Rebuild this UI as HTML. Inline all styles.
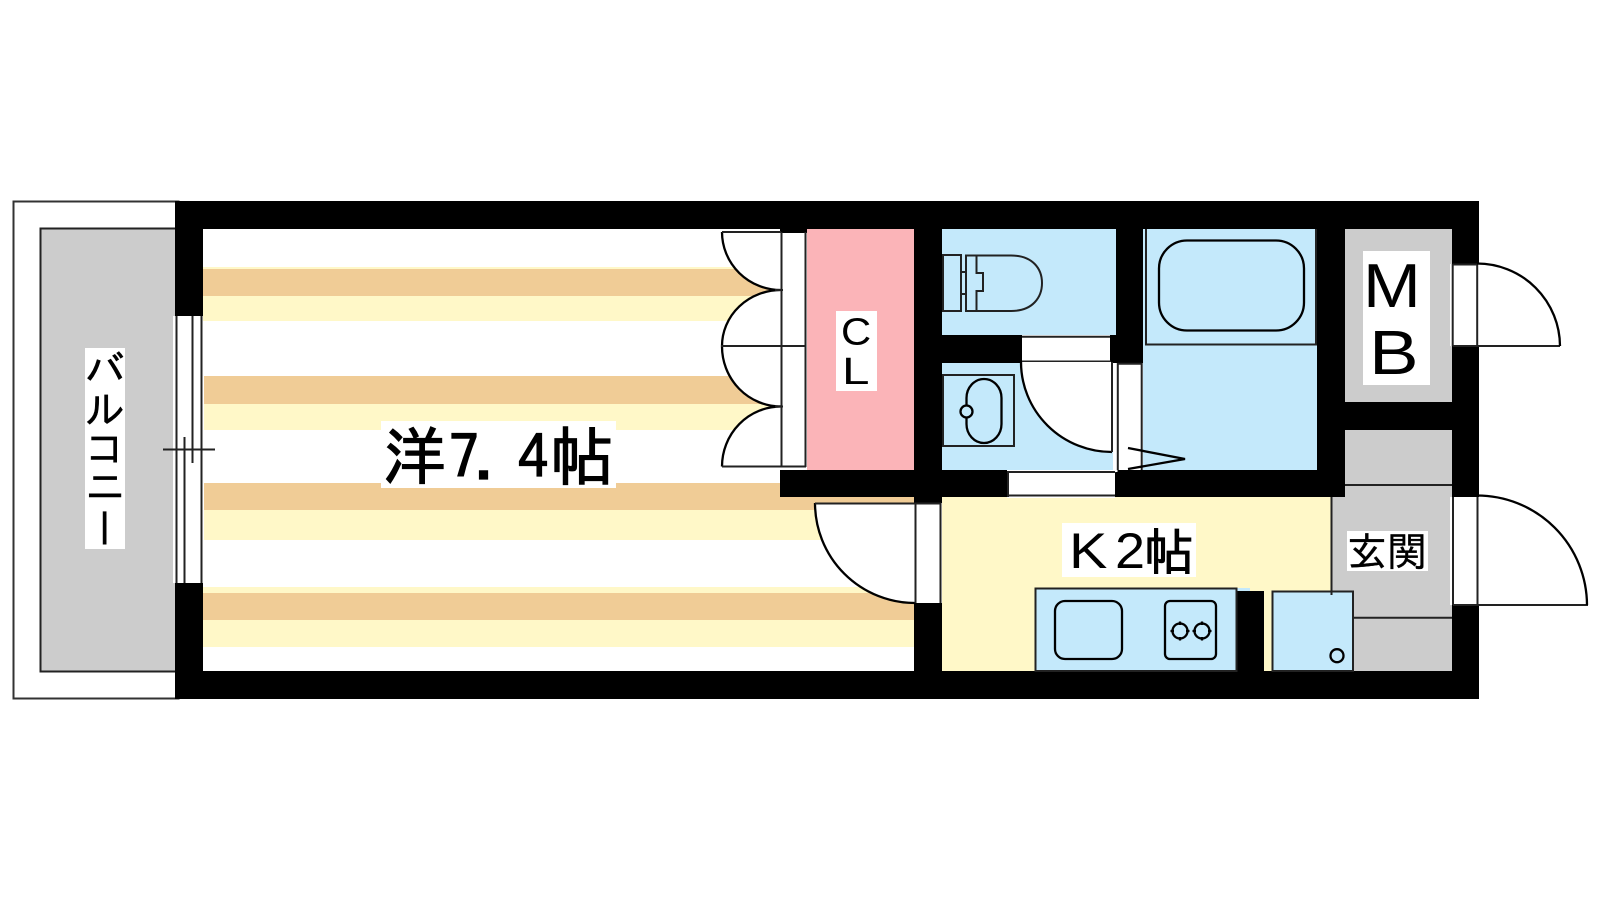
<!DOCTYPE html>
<html lang="ja">
<head>
<meta charset="utf-8">
<title>間取り図</title>
<style>
html,body{margin:0;padding:0;background:#fff;width:1600px;height:900px;overflow:hidden}
svg{display:block}
.l{fill:none;stroke:#222;stroke-width:2}
.d{fill:none;stroke:#000;stroke-width:2.3}
.w{fill:#fff;stroke:none}
.j{font-family:"IPAGothic","Noto Sans CJK JP",sans-serif;fill:#000;stroke:#000;stroke-width:.5}
.b{stroke-width:1.2}
.a{font-family:"Liberation Sans",sans-serif;fill:#000}
</style>
</head>
<body>
<svg width="1600" height="900" viewBox="0 0 1600 900" xmlns="http://www.w3.org/2000/svg">
<rect width="1600" height="900" fill="#fff"/>

<!-- balcony -->
<rect x="13.500" y="201.500" width="165" height="497" fill="#fff" stroke="#333" stroke-width="2"/>
<rect x="40.500" y="228.500" width="138" height="443" fill="#ccc" stroke="#222" stroke-width="2"/>

<!-- stripes -->
<rect x="203" y="267" width="577" height="2" fill="#fff8c8"/>
<rect x="203" y="269" width="577" height="27" fill="#f0cc96"/>
<rect x="203" y="296" width="577" height="25" fill="#fff8c8"/>
<rect x="204" y="376" width="576" height="28" fill="#f0cc96"/>
<rect x="204" y="404" width="576" height="26" fill="#fff8c8"/>
<rect x="204" y="483" width="710" height="27" fill="#f0cc96"/>
<rect x="204" y="510" width="710" height="30" fill="#fff8c8"/>
<rect x="203" y="587" width="711" height="6" fill="#fff8c8"/>
<rect x="203" y="593" width="711" height="27" fill="#f0cc96"/>
<rect x="203" y="620" width="711" height="27" fill="#fff8c8"/>

<!-- room fills -->
<rect x="807" y="229" width="107" height="241" fill="#fbb4b8"/>
<rect x="942" y="229" width="174" height="106" fill="#c4e9fb"/>
<rect x="942" y="363" width="173" height="107" fill="#c4e9fb"/>
<rect x="1143" y="229" width="174" height="241" fill="#c4e9fb"/>
<rect x="1345" y="229" width="107" height="173" fill="#ccc"/>
<rect x="1345" y="430" width="107" height="241" fill="#ccc"/>
<rect x="1332" y="497" width="120" height="174" fill="#ccc"/>
<rect x="942" y="497" width="390" height="174" fill="#fff8c8"/>

<!-- walls -->
<g fill="#000">
<rect x="175" y="201" width="1304" height="28"/>
<rect x="175" y="671" width="1304" height="28"/>
<rect x="175" y="201" width="28" height="115"/>
<rect x="175" y="583" width="28" height="116"/>
<rect x="1452" y="201" width="27" height="63"/>
<rect x="1452" y="346" width="27" height="151"/>
<rect x="1452" y="605" width="27" height="94"/>
<rect x="914" y="229" width="28" height="274"/>
<rect x="914" y="603" width="28" height="68"/>
<rect x="780" y="470" width="227" height="27"/>
<rect x="1115" y="470" width="230" height="27"/>
<rect x="942" y="335" width="80" height="28"/>
<rect x="1116" y="229" width="27" height="106"/>
<rect x="1110" y="335" width="33" height="28"/>
<rect x="1317" y="229" width="28" height="268"/>
<rect x="1345" y="402" width="107" height="28"/>
<rect x="1237" y="591" width="27" height="80"/>
<rect x="780" y="229" width="27" height="4"/>
</g>

<!-- balcony window -->
<rect x="173" y="316" width="30" height="267" fill="#fff"/>
<path class="l" d="M176.500 316V583M201.500 316V583M192.500 316V463M184.500 437V583M163 449.500H215"/>

<!-- closet doors -->
<rect x="780" y="233" width="27" height="234" fill="#fff"/>
<path class="w" d="M722 232H781V290A59 58 0 0 1 722 232Z"/>
<path class="w" d="M722 346A59 56 0 0 1 781 290V346Z"/>
<path class="w" d="M722 346H781V406.500A59 60 0 0 1 722 346Z"/>
<path class="w" d="M722 466.500A59 60 0 0 1 781 406.500V466.500Z"/>
<path class="d" d="M722 232A59 58 0 0 0 781 290M722 346A59 56 0 0 1 781 290M722 346A59 60 0 0 0 781 406.500M722 466.500A59 60 0 0 1 781 406.500"/>
<path class="l" d="M722 232H781M721 346H806M722 466.500H806M781.500 232V467M805.500 232V467M775 290H783M775 406.500H783"/>

<!-- room door to western room -->
<rect x="915" y="503" width="26" height="100" fill="#fff"/>
<path class="w" d="M815 503H915V603A100 100 0 0 1 815 503Z"/>
<path class="d" d="M815 503A100 100 0 0 0 915 603"/>
<path class="l" d="M815 503.500H941M915.500 503V603M940.500 503V603"/>

<!-- toilet -->
<path class="l" d="M943 255H961V311H943ZM961 272H966V294H961Z"/>
<path class="l" d="M966 255.500H1011C1033 255.500 1042 269 1042 283C1042 297 1033 311 1011 311H966ZM976.500 255.500V273H983V291H976.500V311"/>

<!-- WC / wash door bands -->
<rect x="1022" y="335" width="88" height="28" fill="#fff"/>
<path class="l" d="M1022 336.800H1110M1022 361.500H1111"/>

<!-- wash basin -->
<rect x="943" y="375" width="71" height="71" fill="none" stroke="#222" stroke-width="2"/>
<rect x="966.500" y="379" width="35" height="64" rx="17.500" ry="19" class="d"/>
<circle cx="966.500" cy="411.500" r="6" fill="#c4e9fb" stroke="#000" stroke-width="2.300"/>

<!-- wash door -->
<path class="w" d="M1021 362H1112V452A91 90 0 0 1 1021 362Z"/>
<path class="d" d="M1021 362A91 90 0 0 0 1112 452"/>
<path class="l" d="M1112 362V452"/>
<rect x="1113" y="363" width="30" height="107" fill="#fff"/>
<path class="l" d="M1117.800 363V470M1141.700 363V470M1117.800 363.800H1141.700"/>
<rect x="1007" y="471" width="108" height="27" fill="#fff"/>
<path class="l" d="M1007 472H1116M1008 472V497M1008 495.500H1115"/>
<rect x="1115" y="470" width="2.500" height="2" fill="#fff"/>
<path class="d" d="M1128 448L1185 459L1128 469"/>

<!-- bath -->
<path class="l" d="M1146 229V344.500H1316V229"/>
<rect x="1159" y="240.500" width="145" height="90" rx="28" ry="28" class="d"/>

<!-- MB -->
<rect x="1363" y="251" width="67" height="134" fill="#fff"/>
<text class="a" font-size="62" transform="translate(1363 307) scale(1.12 1)">M</text>
<text class="a" font-size="62" transform="translate(1369 374) scale(1.2 1)">B</text>

<!-- entry lines -->
<path class="l" d="M1345 485H1452M1331.500 497V595M1353 617.700H1452"/>

<!-- exterior doors -->
<rect x="1450" y="264" width="29" height="82" fill="#fff"/>
<path class="l" d="M1452.700 264.500H1477M1452.700 264V346M1477.200 264V346M1452.700 346H1560"/>
<path class="d" d="M1477 263.500A83 83 0 0 1 1560 346"/>
<rect x="1450" y="497" width="29" height="108" fill="#fff"/>
<path class="l" d="M1453 497V605M1477.500 497V605M1453 605H1588"/>
<path class="d" d="M1477 495.500A110 110 0 0 1 1587 605"/>

<!-- kitchen -->
<rect x="1237" y="588" width="13" height="3" fill="#c4e9fb"/>
<rect x="1035.500" y="588.500" width="201" height="82.500" fill="#c4e9fb" stroke="#222" stroke-width="2"/>
<rect x="1055" y="601" width="67" height="58" rx="10" class="d"/>
<rect x="1165" y="601" width="51" height="58" rx="5" class="d"/>
<circle cx="1180" cy="631" r="7.500" class="d"/>
<circle cx="1202" cy="631" r="7.500" class="d"/>
<path class="d" d="M1170.500 631H1174M1186 631H1189.500M1180 621.500V625M1180 637V640.500M1192.500 631H1196M1208 631H1211.500M1202 621.500V625M1202 637V640.500"/>

<!-- refrigerator -->
<rect x="1272.500" y="591.500" width="80.500" height="79.500" fill="#c4e9fb" stroke="#222" stroke-width="2"/>
<circle cx="1337" cy="655.700" r="6.500" class="d"/>
<path class="l" d="M1331.500 588V595"/>

<!-- labels -->
<rect x="85" y="348" width="40" height="201" fill="#fff"/>
<text class="j" x="85" y="384" font-size="40">バ</text>
<text class="j" x="85" y="424" font-size="40">ル</text>
<text class="j" x="85" y="463" font-size="40">コ</text>
<text class="j" x="85" y="501" font-size="40">ニ</text>
<text class="j" font-size="40" transform="translate(109.500 508) rotate(90)" x="0" y="20">ー</text>

<rect x="381" y="421" width="235" height="67" fill="#fff"/>
<text class="j b" x="383" y="479" font-size="63">洋</text>
<text class="j b" x="449" y="479" font-size="60">7</text>
<text class="j b" x="474" y="479" font-size="60">.</text>
<text class="j b" x="518" y="479" font-size="60">4</text>
<text class="j b" x="550" y="480" font-size="64">帖</text>

<rect x="836" y="311" width="41" height="80" fill="#fff"/>
<text class="a" font-size="38" transform="translate(841 344.500) scale(1.1 1)">C</text>
<text class="a" font-size="38" transform="translate(842 384) scale(1.3 1)">L</text>

<rect x="1062" y="523" width="134" height="54" fill="#fff"/>
<text class="a" font-size="50" transform="translate(1069 568) scale(1.15 1)">K</text>
<text class="a" font-size="50" transform="translate(1115 568) scale(1.08 1)">2</text>
<text class="j" x="1144" y="570" font-size="50" style="stroke-width:.9">帖</text>

<rect x="1347" y="531" width="81" height="40" fill="#fff"/>
<text class="j" x="1347" y="566" font-size="40" style="stroke-width:.3">玄関</text>
</svg>
</body>
</html>
